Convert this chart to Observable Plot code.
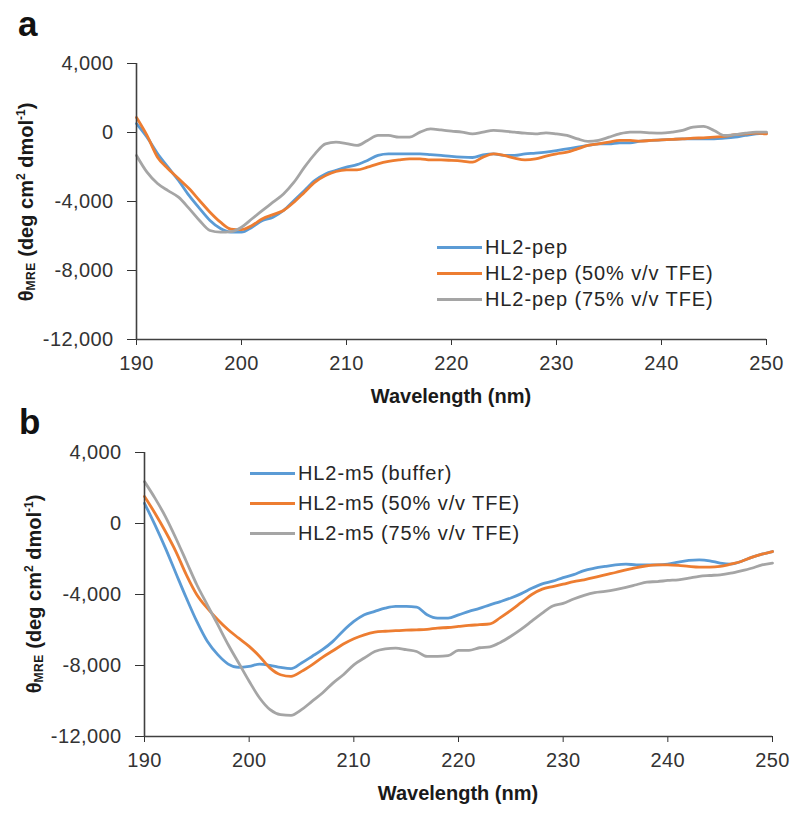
<!DOCTYPE html>
<html>
<head>
<meta charset="utf-8">
<script src="https://cdn.jsdelivr.net/npm/d3@7"></script>
<script src="https://cdn.jsdelivr.net/npm/@observablehq/plot@0.6"></script>
<style>
  html, body { margin: 0; padding: 0; background: #fff; }
  #wrap { position: relative; width: 800px; height: 816px; background: #fff; font-family: "Liberation Sans", Arial, sans-serif; color: #262626; overflow: hidden; }
  .abs { position: absolute; white-space: nowrap; }
  .panelLetter { font-weight: bold; font-size: 35px; line-height: 1; color: #111; }
  .xtitle { font-weight: bold; font-size: 20px; line-height: 1; transform: translateX(-50%); color: #1a1a1a; }
  .ytitle { font-weight: bold; font-size: 20px; line-height: 1; transform: translate(-50%, -50%) rotate(-90deg); color: #1a1a1a; }
  .ytitle sub { font-size: 12px; vertical-align: -2px; line-height: 0; letter-spacing: 0.5px; }
  .ytitle sup { font-size: 12px; vertical-align: 8px; line-height: 0; }
  .legRow { position: absolute; display: flex; align-items: center; font-size: 20px; letter-spacing: 0.9px; line-height: 1; white-space: nowrap; color: #262626; transform: translateY(-50%); }
  .legRow .sw { display: inline-block; width: 45px; height: 3px; margin-right: 3px; }
</style>
</head>
<body>
<div id="wrap"></div>
<script>
// ---------- data ----------
const wavelength = [190,191,192,193,194,195,196,197,198,199,200,201,202,203,204,205,206,207,208,209,210,
  211,212,213,214,215,216,217,218,219,220,221,222,223,224,225,226,227,228,229,230,
  231,232,233,234,235,236,237,238,239,240,241,242,243,244,245,246,247,248,249,250];

// Panel a
const seriesA = ["HL2-pep", "HL2-pep (50% v/v TFE)", "HL2-pep (75% v/v TFE)"];
const pepBuffer = [520,-270,-1220,-2010,-2780,-3650,-4400,-5100,-5570,-5780,-5780,-5490,-5100,-4910,-4520,-3940,-3360,-2780,-2400,-2200,-2010,
  -1860,-1620,-1330,-1240,-1240,-1240,-1240,-1280,-1330,-1390,-1430,-1450,-1300,-1240,-1330,-1330,-1240,-1200,-1140,-1050,
  -950,-850,-750,-660,-660,-600,-600,-500,-460,-430,-400,-370,-370,-370,-370,-330,-270,-170,-80,-40];
const pep50 = [870,-170,-1430,-2100,-2670,-3250,-3940,-4620,-5200,-5600,-5630,-5390,-5000,-4760,-4520,-4040,-3460,-2880,-2500,-2260,-2170,
  -2170,-2010,-1820,-1680,-1590,-1530,-1530,-1590,-1590,-1620,-1660,-1720,-1430,-1240,-1330,-1490,-1590,-1530,-1370,-1240,
  -1140,-950,-750,-660,-560,-460,-460,-500,-460,-430,-400,-370,-330,-310,-270,-230,-120,-80,-40,-80];
const pep75 = [-1330,-2300,-2960,-3370,-3750,-4400,-5100,-5680,-5780,-5750,-5490,-5000,-4520,-4040,-3560,-2880,-2010,-1240,-660,-560,-640,
  -750,-460,-170,-170,-270,-270,20,210,150,80,20,-80,20,120,80,20,-40,-80,-20,-80,
  -170,-370,-520,-460,-270,-80,20,20,-20,-40,20,120,310,350,120,-170,-120,-40,20,20];

// Panel b
const seriesB = ["HL2-m5 (buffer)", "HL2-m5 (50% v/v TFE)", "HL2-m5 (75% v/v TFE)"];
const m5Buffer = [1140,-80,-1390,-2800,-4200,-5520,-6640,-7390,-7920,-8110,-8050,-7920,-7990,-8110,-8180,-7860,-7490,-7110,-6640,-6040,-5520,
  -5140,-4950,-4770,-4670,-4670,-4710,-5140,-5330,-5330,-5150,-4950,-4780,-4580,-4400,-4200,-3950,-3650,-3400,-3250,-3050,
  -2880,-2650,-2520,-2420,-2330,-2290,-2330,-2330,-2330,-2290,-2180,-2080,-2050,-2100,-2230,-2290,-2140,-1910,-1730,-1580];
const m550 = [1520,580,-450,-1580,-2890,-4010,-4770,-5420,-5990,-6460,-6920,-7490,-8150,-8520,-8610,-8330,-7960,-7540,-7170,-6790,-6490,
  -6270,-6120,-6070,-6040,-6010,-5990,-5960,-5890,-5860,-5800,-5740,-5700,-5650,-5300,-4900,-4450,-4000,-3700,-3550,-3420,
  -3270,-3170,-3040,-2890,-2760,-2610,-2480,-2380,-2330,-2330,-2360,-2420,-2460,-2460,-2420,-2290,-2140,-1910,-1730,-1580];
const m575 = [2360,1430,390,-830,-2140,-3450,-4580,-5700,-6830,-7860,-8890,-9830,-10490,-10770,-10810,-10490,-10020,-9550,-8990,-8520,-7960,
  -7580,-7210,-7060,-7020,-7110,-7210,-7490,-7490,-7450,-7150,-7150,-7000,-6950,-6700,-6350,-5950,-5500,-5050,-4650,-4500,
  -4250,-4050,-3900,-3830,-3730,-3600,-3450,-3300,-3270,-3210,-3170,-3080,-2980,-2930,-2890,-2800,-2670,-2520,-2330,-2230];

const colors = ["#5B9BD5", "#ED7D31", "#A5A5A5"];
const xTicks = [190, 200, 210, 220, 230, 240, 250];
const yTicks = [-12000, -8000, -4000, 0, 4000];
const xTitle = "Wavelength (nm)";

// ---------- helpers ----------
const fmt = d => d3.format(",")(d).replace("\u2212", "-");

function toRows(names, arrays) {
  const rows = [];
  names.forEach((name, i) => {
    arrays[i].forEach((v, j) => rows.push({ series: name, nm: wavelength[j], v }));
  });
  return rows;
}

function makePlot(names, arrays, cfg) {
  return Plot.plot({
    width: 800,
    height: cfg.height,
    marginTop: cfg.mt,
    marginBottom: cfg.mb,
    marginLeft: cfg.ml,
    marginRight: cfg.mr,
    style: { fontFamily: "'Liberation Sans', Arial, sans-serif", fontSize: "20px", color: "#333", background: "transparent", letterSpacing: "0.4px" },
    x: { domain: [190, 250], ticks: xTicks, tickSize: 6, tickPadding: 10, tickFormat: d => String(d), label: null },
    y: { domain: [-12000, 4000], ticks: yTicks, tickSize: 9, tickPadding: 14, tickFormat: fmt, label: null },
    color: { domain: names, range: colors },
    marks: [
      Plot.line(toRows(names, arrays), { x: "nm", y: "v", stroke: "series", strokeWidth: 2.8, curve: "monotone-x" }),
      Plot.ruleX([190], { stroke: "#404040", strokeWidth: 1.6 }),
      Plot.ruleY([-12000], { stroke: "#404040", strokeWidth: 1.6 })
    ]
  });
}

const wrap = document.getElementById("wrap");

function addPanel(top, height, names, arrays, cfg) {
  const holder = document.createElement("div");
  holder.className = "abs";
  holder.style.left = "0px";
  holder.style.top = top + "px";
  holder.appendChild(makePlot(names, arrays, { height, ...cfg }));
  wrap.appendChild(holder);
}

function addText(cls, html, left, top) {
  const d = document.createElement("div");
  d.className = "abs " + cls;
  d.innerHTML = html;
  d.style.left = left + "px";
  d.style.top = top + "px";
  wrap.appendChild(d);
  return d;
}

function addLegend(names, left, ys) {
  names.forEach((name, i) => {
    const row = document.createElement("div");
    row.className = "legRow";
    row.style.left = left + "px";
    row.style.top = ys[i] + "px";
    const sw = document.createElement("span");
    sw.className = "sw";
    sw.style.background = colors[i];
    const t = document.createElement("span");
    t.textContent = name;
    row.appendChild(sw);
    row.appendChild(t);
    wrap.appendChild(row);
  });
}

const yTitleHTML = "θ<sub>MRE</sub> (deg cm<sup>2</sup> dmol<sup>-1</sup>)";

// Panel a
addPanel(0, 400, seriesA, [pepBuffer, pep50, pep75], { mt: 63, mb: 61, ml: 136, mr: 34 });
addText("panelLetter", "a", 18, 6);
addText("xtitle", xTitle, 451, 386);
addText("ytitle", yTitleHTML, 26, 202);
addLegend(seriesA, 437, [247, 273, 299]);

// Panel b
addPanel(400, 416, seriesB, [m5Buffer, m550, m575], { mt: 52, mb: 80, ml: 144, mr: 28 });
addText("panelLetter", "b", 19, 404);
addText("xtitle", xTitle, 458, 783);
addText("ytitle", yTitleHTML, 34, 594);
addLegend(seriesB, 250, [473, 503, 533]);
</script>
</body>
</html>
